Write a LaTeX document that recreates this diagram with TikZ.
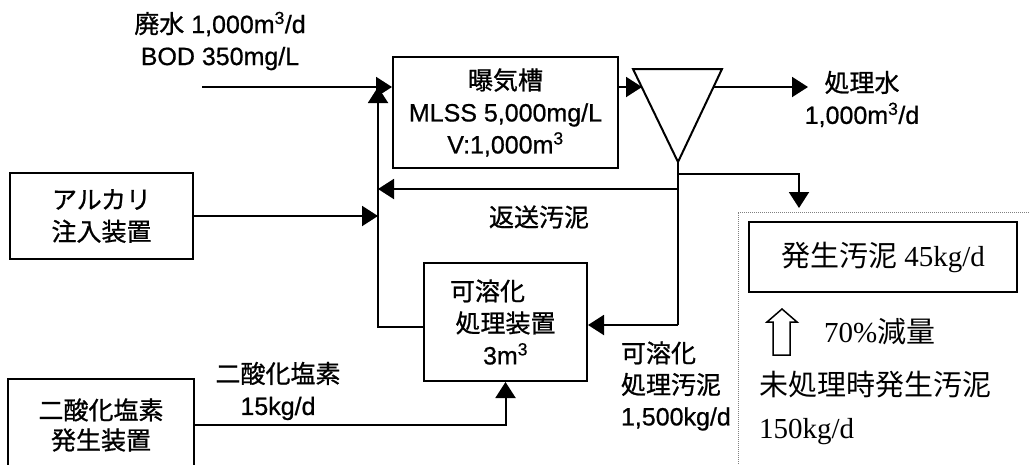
\documentclass[tikz,border=0pt]{standalone}
\usepackage{fontspec}
\setmainfont{Liberation Sans}[FakeBold=0.7]
\newfontfamily\jpfont{Noto Sans CJK JP}[FakeBold=0.9]
\newfontfamily\jplight{Noto Sans CJK JP}
\newfontfamily\rmlat{Liberation Serif}
\newcommand{\ja}[1]{{\jpfont #1}}
\newcommand{\jl}[1]{{\jplight #1}}
\usetikzlibrary{arrows.meta,positioning}

\begin{document}
\begin{tikzpicture}[x=1pt,y=-1pt,
    font=\fontsize{25}{32}\selectfont,
    line width=2pt,
    >={Triangle[length=16pt,width=20pt]},
    unit/.style={draw,rectangle,inner sep=0pt,align=center},
    lbl/.style={align=center,inner sep=0pt},
    res/.style={font=\fontsize{29}{36}\selectfont\rmlat,inner sep=0pt}]
  \useasboundingbox (0,0) rectangle (1029,464);

  % units
  \node[unit,minimum width=225pt,minimum height=111pt] (aer) at (505.5,112.5)
        {\ja{曝気槽}\\MLSS 5,000mg/L\\V:1,000m\textsuperscript{3}};
  \node[unit,minimum width=183pt,minimum height=86pt] (alk) at (101.5,216)
        {\ja{アルカリ}\\\ja{注入装置}};
  \node[unit,minimum width=163pt,minimum height=118pt] (sol) at (505.5,322)
        {\ja{可溶化}\hspace*{36pt}\\\ja{処理装置}\\3m\textsuperscript{3}};
  \node[unit,minimum width=186pt,minimum height=92pt,
        font=\fontsize{25}{30}\selectfont] (clo) at (101,425)
        {\ja{二酸化塩素}\\\ja{発生装置}};

  % clarifier
  \coordinate (cl-l) at (642,87);
  \coordinate (cl-r) at (713,87);
  \coordinate (cl-b) at (678,162);
  \draw[line join=miter] (633,69) -- (722,69) -- (cl-b) -- cycle;

  % labels
  \node[lbl] (infl) at (220,41) {\ja{廃水} 1,000m\textsuperscript{3}/d\\BOD 350mg/L};
  \node[lbl] (effl) at (862,99) {\ja{処理水}\\1,000m\textsuperscript{3}/d};
  \node[lbl] (retl) at (539,217) {\ja{返送汚泥}};
  \node[lbl] (clol) at (278,391) {\ja{二酸化塩素}\\15kg/d};
  \node[lbl,align=left,anchor=west,font=\fontsize{25}{31.5}\selectfont] (soll)
        at (620,386) {\ja{可溶化}\\\ja{処理汚泥}\\1,500kg/d};

  \coordinate (in)   at (202,87);
  \coordinate (mix)  at (378,87);
  \coordinate (out)  at (808,87);
  \coordinate (brn)  at (678,174);
  \coordinate (ret)  at (678,189);
  \coordinate (spl)  at (678,325);
  \coordinate (loop) at (378,327);
  \coordinate (was)  at (799,208);

  \draw[->] (in) -- (in -| aer.west);
  \draw[->] (aer.east |- cl-l) -- (cl-l);
  \draw[->] (cl-r) -- (out);
  \draw (cl-b) -- (spl);
  \draw[->] (spl) -- (spl -| sol.east);
  \draw[->] (ret) -- (ret -| mix);
  \draw[->] (brn) -| (was);
  \draw[->] (alk.east) -- (alk.east -| mix);
  \draw[->] (sol.west |- loop) -- (loop) -- (mix);
  \draw[->] (clo.east) -| (sol.south);

  % sludge result
  \draw[gray,dash pattern=on 1pt off 1pt,line width=0.8pt]
        (738,480) -- (738,212) -- (1040,212);
  \node[draw,res,minimum width=268pt,minimum height=70pt] (gen) at (883,257)
        {\jl{発生汚泥} 45kg/d};
  \draw[line width=1.5pt,line join=miter] (773,355) -- (773,322) -- (767,322)
        -- (782,309) -- (797,322) -- (790,322) -- (790,355) -- cycle;
  \node[res,anchor=west] (red) at (823,332) {70\%\jl{減量}};
  \node[res,anchor=west] (unt) at (758,385) {\jl{未処理時発生汚泥}};
  \node[res,anchor=west] (unk) at (758,432) {150kg/d};
\end{tikzpicture}
\end{document}
